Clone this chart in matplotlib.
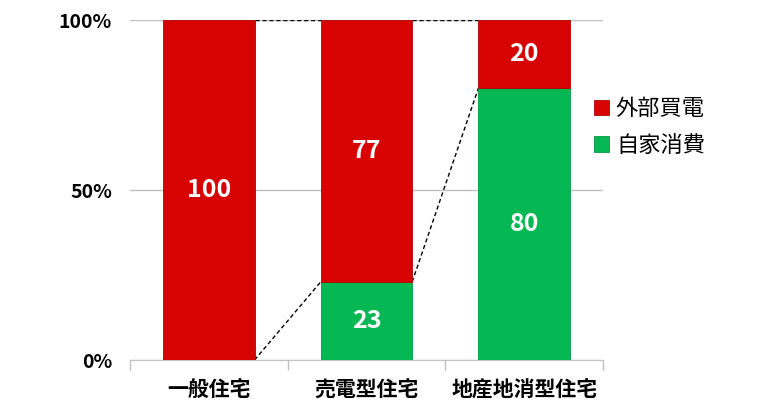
import matplotlib
matplotlib.use("Agg")
import matplotlib.pyplot as plt
import numpy as np

plt.rcParams["font.family"] = ["Noto Sans CJK JP", "DejaVu Sans"]

categories = ["一般住宅", "売電型住宅", "地産地消型住宅"]
self_use = [0, 23, 80]       # 自家消費
purchased = [100, 77, 20]    # 外部買電
series_names = ["外部買電", "自家消費"]
ytick_labels = ["0%", "50%", "100%"]

red = "#D70303"
green = "#05B853"
width = 0.58

fig = plt.figure(figsize=(7.6, 4.2), dpi=100)
ax = fig.add_axes([130 / 760, 60 / 420, 473 / 760, 340 / 420])

x = np.arange(len(categories))
b_green = ax.bar(x, self_use, width, color=green, edgecolor="#049a45", linewidth=0.6, label=series_names[1], zorder=3)
b_red = ax.bar(x, purchased, width, bottom=self_use, color=red, edgecolor="#b00202", linewidth=0.6, label=series_names[0], zorder=3)

# value labels
for xi, g, r in zip(x, self_use, purchased):
    if g > 0:
        ax.text(xi, g / 2, str(g), ha="center", va="center", color="white", fontsize=18, fontweight="bold", zorder=4)
    if r > 0:
        ax.text(xi, g + r / 2, str(r), ha="center", va="center", color="white", fontsize=18, fontweight="bold", zorder=4)

# dashed connectors between bars
totals = [g + r for g, r in zip(self_use, purchased)]
for i in range(len(x) - 1):
    x0 = x[i] + width / 2
    x1 = x[i + 1] - width / 2
    ax.plot([x0, x1], [self_use[i], self_use[i + 1]], ls=(0, (3, 2)), color="black", lw=1, zorder=2)
    ax.plot([x0, x1], [totals[i], totals[i + 1]], ls=(0, (3, 2)), color="black", lw=1, zorder=2)

ax.set_xlim(-0.5, len(categories) - 0.5)
ax.set_ylim(0, 100)
ax.set_yticks([0, 50, 100])
ax.set_yticklabels(ytick_labels, fontsize=14, fontweight="bold")
ax.yaxis.grid(True, color="#c0c0c0", lw=1, zorder=0)
ax.tick_params(axis="y", length=0, pad=13)

ax.set_xticks(x)
ax.set_xticklabels(categories, fontsize=15, fontweight="bold")
ax.tick_params(axis="x", length=0, pad=14)
ax.set_xticks(np.arange(-0.5, len(categories)), minor=True)
ax.tick_params(axis="x", which="minor", length=7, color="#c0c0c0", width=1)

for s in ["top", "right", "left"]:
    ax.spines[s].set_visible(False)
ax.spines["bottom"].set_color("#c0c0c0")

ax.legend(handles=[b_red, b_green], labels=series_names, loc="center left",
          bbox_to_anchor=(0.938, 0.685), frameon=False, fontsize=16,
          handlelength=0.7, handleheight=0.7, handletextpad=0.3, labelspacing=0.6)

fig.savefig("out.png", dpi=100)
